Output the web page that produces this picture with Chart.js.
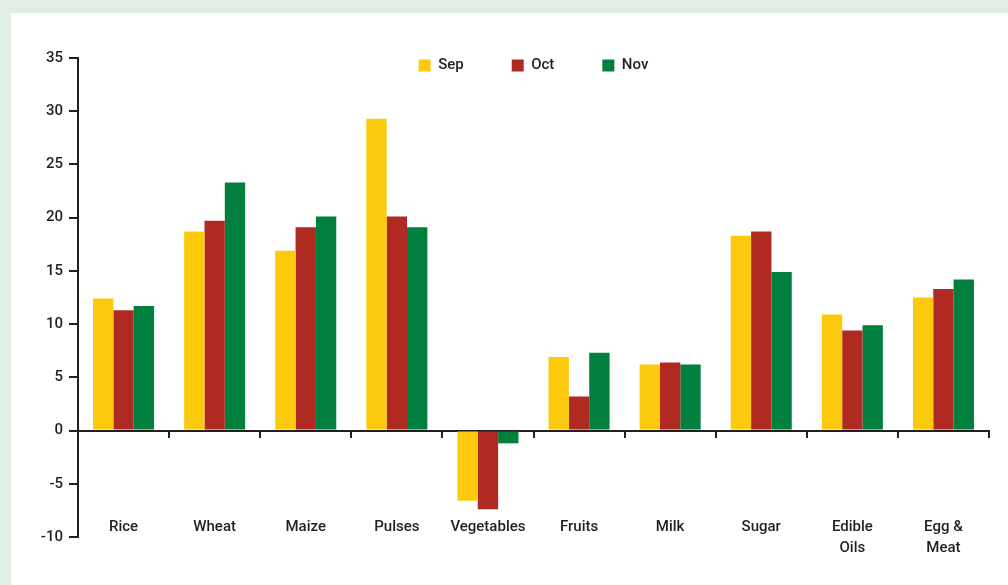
<!DOCTYPE html>
<html>
<head>
<meta charset="utf-8">
<script src="https://cdn.jsdelivr.net/npm/chart.js@4"></script>
<style>
  html, body { margin: 0; padding: 0; }
  body { width: 1008px; height: 585px; background: #e2ede4; position: relative; overflow: hidden; }
  #panel { position: absolute; left: 11px; top: 13px; right: 0; bottom: 0; background: #ffffff; }
  #wrap { position: absolute; left: 0; top: 0; width: 1008px; height: 585px; }
</style>
</head>
<body>
<div id="panel"></div>
<div id="wrap"><canvas id="myChart" width="1008" height="585"></canvas></div>
<script>
var categories = ['Rice', 'Wheat', 'Maize', 'Pulses', 'Vegetables', 'Fruits', 'Milk', 'Sugar', ['Edible', 'Oils'], ['Egg &', 'Meat']];
var sep = [12.4, 18.7, 16.9, 29.3, -6.6, 6.9, 6.2, 18.3, 10.9, 12.5];
var oct = [11.3, 19.7, 19.1, 20.1, -7.4, 3.2, 6.4, 18.7, 9.4, 13.3];
var nov = [11.7, 23.3, 20.1, 19.1, -1.2, 7.3, 6.2, 14.9, 9.9, 14.2];

var ink = '#231f20';
var font = { family: 'Roboto', size: 15, weight: '500', lineHeight: 1.4 };

// the legend sits over the top of the plot, so give its box room to draw
var legendRoom = {
    id: 'legendRoom',
    afterLayout: function(chart) {
        chart.legend.bottom = chart.legend.top + 80;
        chart.legend.height = 80;
    }
};

var ctx = document.getElementById('myChart');
var myChart = new Chart(ctx, {
    type: 'bar',
    data: {
        labels: categories,
        datasets: [
            { label: 'Sep', data: sep, backgroundColor: '#fdc90c' },
            { label: 'Oct', data: oct, backgroundColor: '#b02a22' },
            { label: 'Nov', data: nov, backgroundColor: '#007f3e' }
        ]
    },
    plugins: [legendRoom],
    options: {
        responsive: false,
        animation: false,
        datasets: { bar: { barPercentage: 1, categoryPercentage: 0.67, borderWidth: 0 } },
        layout: { padding: { top: 10, left: 0, right: 19, bottom: 48 } },
        plugins: {
            tooltip: { enabled: false },
            legend: {
                position: 'top',
                fullSize: false,
                maxHeight: 48,
                labels: { boxWidth: 12, boxHeight: 12, padding: 48, color: ink, font: font }
            }
        },
        scales: {
            x: {
                position: { y: 0 },
                afterFit: function(scale) { scale.paddingLeft = 0; scale.paddingRight = 0; },
                border: { display: true, color: ink, width: 2 },
                grid: { offset: true, drawOnChartArea: false, drawTicks: true, tickLength: 6, color: ink, lineWidth: 2 },
                ticks: { color: ink, font: font, padding: 80, autoSkip: false, maxRotation: 0 }
            },
            y: {
                min: -10,
                max: 35,
                afterFit: function(scale) { scale.width = 78; },
                border: { display: true, color: ink, width: 2 },
                grid: { drawOnChartArea: false, drawTicks: true, tickLength: 9, color: ink, lineWidth: 2 },
                ticks: { stepSize: 5, color: ink, font: font, padding: 6 }
            }
        }
    }
});
</script>
</body>
</html>
